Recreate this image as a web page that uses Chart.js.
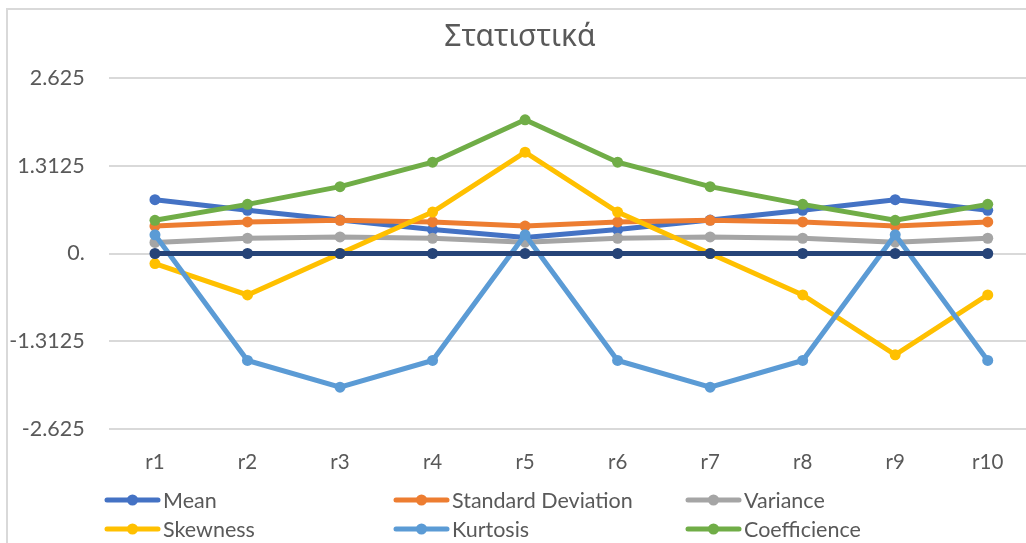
<!DOCTYPE html>
<html>
<head>
<meta charset="utf-8">
<script src="https://cdn.jsdelivr.net/npm/chart.js@4/dist/chart.umd.min.js"></script>
<style>
  html, body { margin: 0; padding: 0; background: #ffffff; overflow: hidden; }
  #wrap { position: absolute; left: 0; top: 0; width: 1040px; height: 560px; }
</style>
</head>
<body>
<div id="wrap"><canvas id="chart" width="1040" height="560"></canvas></div>
<script>
// Categories and tick labels
const categories = ['r1', 'r2', 'r3', 'r4', 'r5', 'r6', 'r7', 'r8', 'r9', 'r10'];
const yTickValues = [-2.625, -1.3125, 0, 1.3125, 2.625];
const yTickLabels = ['-2.625', '-1.3125', '0.', '1.3125', '2.625'];

// Series values
const meanValues        = [0.805, 0.646, 0.50, 0.358, 0.239, 0.358, 0.50, 0.646, 0.805, 0.646];
const stdDevValues      = [0.41, 0.472, 0.497, 0.472, 0.41, 0.472, 0.497, 0.472, 0.41, 0.472];
const varianceValues    = [0.165, 0.228, 0.248, 0.228, 0.17, 0.228, 0.248, 0.228, 0.17, 0.228];
const skewnessValues    = [-0.15, -0.62, 0.0, 0.62, 1.515, 0.62, 0.0, -0.62, -1.515, -0.62];
const kurtosisValues    = [0.28, -1.6, -2.0, -1.6, 0.28, -1.6, -2.0, -1.6, 0.28, -1.6];
const coefficientValues = [0.497, 0.735, 1.0, 1.366, 2.0, 1.366, 1.0, 0.735, 0.497, 0.735];
const baselineValues    = [0, 0, 0, 0, 0, 0, 0, 0, 0, 0];

const seriesNames  = ['Mean', 'Standard Deviation', 'Variance', 'Skewness', 'Kurtosis', 'Coefficience', ''];
const seriesColors = ['#4472C4', '#ED7D31', '#A5A5A5', '#FFC000', '#5B9BD5', '#70AD47', '#264478'];
const seriesValues = [meanValues, stdDevValues, varianceValues, skewnessValues, kurtosisValues, coefficientValues, baselineValues];

const TEXT = '#595959';
const GRID = '#D9D9D9';
const FONT = 'Lato, "Noto Sans", sans-serif';

const datasets = seriesValues.map((vals, i) => ({
  label: seriesNames[i],
  data: vals,
  borderColor: seriesColors[i],
  backgroundColor: seriesColors[i],
  pointBackgroundColor: seriesColors[i],
  pointBorderColor: seriesColors[i],
  borderWidth: 5,
  pointRadius: 5.5,
  pointBorderWidth: 0,
  pointHoverRadius: 5.5,
  tension: 0,
  fill: false,
  inLegend: i < 6,
  order: seriesValues.length - i   // later series paint over earlier ones
}));

// Chart frame and title
const framePlugin = {
  id: 'frame',
  beforeDraw(chart) {
    const ctx = chart.ctx;
    ctx.save();
    ctx.fillStyle = '#ffffff';
    ctx.fillRect(0, 0, chart.width, chart.height);
    ctx.strokeStyle = GRID;
    ctx.lineWidth = 2;
    ctx.strokeRect(7, 9, chart.width + 20, chart.height + 20);
    ctx.restore();
  },
  afterDraw(chart) {
    const ctx = chart.ctx;
    ctx.save();
    ctx.fillStyle = TEXT;
    ctx.font = '30px "Noto Sans", "Open Sans", sans-serif';
    ctx.textAlign = 'center';
    ctx.textBaseline = 'middle';
    ctx.fillText('Στατιστικά', 520, 37);
    ctx.restore();
  }
};

// Legend laid out in three fixed columns
const legendPlugin = {
  id: 'gridLegend',
  afterDraw(chart) {
    const ctx = chart.ctx;
    const colX = [105, 394, 686];
    const rowY = [500, 529];
    const lineLen = 55;
    ctx.save();
    ctx.font = '21.5px ' + FONT;
    ctx.textBaseline = 'middle';
    ctx.textAlign = 'left';
    let k = 0;
    chart.data.datasets.forEach(ds => {
      if (!ds.inLegend) return;
      const x = colX[k % 3];
      const y = rowY[Math.floor(k / 3)];
      ctx.strokeStyle = ds.borderColor;
      ctx.lineWidth = 5;
      ctx.lineCap = 'round';
      ctx.beginPath();
      ctx.moveTo(x + 2, y);
      ctx.lineTo(x + lineLen - 2, y);
      ctx.stroke();
      ctx.fillStyle = ds.borderColor;
      ctx.beginPath();
      ctx.arc(x + lineLen / 2, y, 5.5, 0, Math.PI * 2);
      ctx.fill();
      ctx.fillStyle = TEXT;
      ctx.fillText(ds.label, x + lineLen + 3, y + 1);
      k++;
    });
    ctx.restore();
  }
};

new Chart(document.getElementById('chart'), {
  type: 'line',
  data: { labels: categories, datasets },
  options: {
    responsive: false,
    animation: false,
    devicePixelRatio: 1,
    layout: { padding: { left: 8, right: 6, top: 78, bottom: 0 }, autoPadding: false },
    plugins: { legend: { display: false }, title: { display: false }, tooltip: { enabled: false } },
    scales: {
      x: {
        type: 'category',
        offset: true,
        border: { display: false },
        grid: { display: false, drawTicks: false },
        ticks: { color: TEXT, font: { family: FONT, size: 20.5 }, padding: 21, maxRotation: 0 },
        afterFit: s => { s.height = 131; }
      },
      y: {
        min: yTickValues[0],
        max: yTickValues[yTickValues.length - 1],
        border: { display: false },
        grid: { color: GRID, lineWidth: 2, drawTicks: false },
        afterBuildTicks: s => { s.ticks = yTickValues.map(v => ({ value: v })); },
        ticks: {
          color: TEXT,
          font: { family: FONT, size: 21.5 },
          padding: 24,
          callback: (v) => {
            const i = yTickValues.indexOf(v);
            return i >= 0 ? yTickLabels[i] : '';
          }
        },
        afterFit: s => { s.width = 100.7; }
      }
    }
  },
  plugins: [framePlugin, legendPlugin]
});
</script>
</body>
</html>
